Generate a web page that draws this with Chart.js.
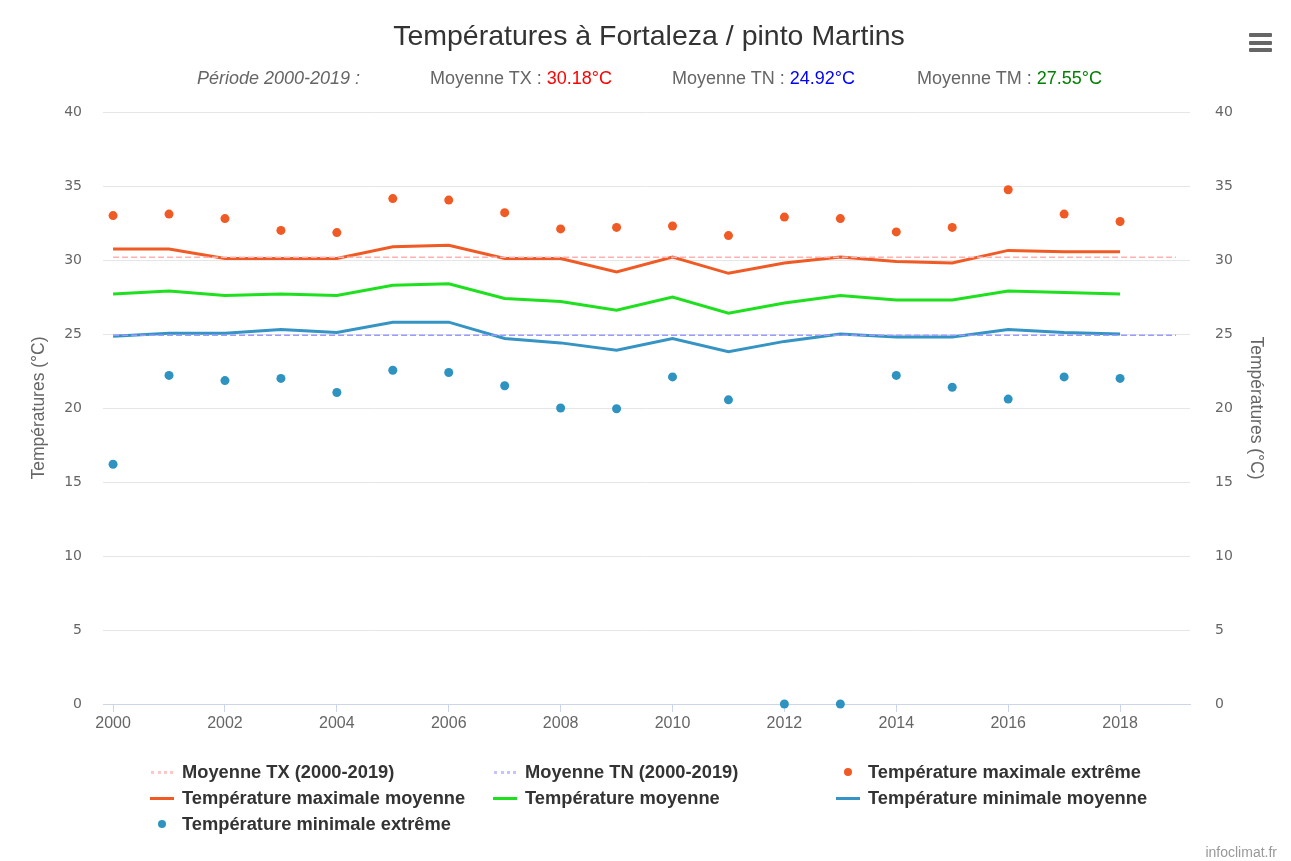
<!DOCTYPE html>
<html>
<head>
<meta charset="utf-8">
<script src="https://cdn.jsdelivr.net/npm/chart.js@4/dist/chart.umd.min.js"></script>
<style>
  body { margin: 0; background: #fff; }
  #wrap { position: relative; width: 1291px; height: 861px; font-family: "Liberation Sans", sans-serif; }
  #chart { position: absolute; left: 0; top: 0; }
  #title { position: absolute; top: 19px; left: 0; width: 1298px; text-align: center; font-size: 28.5px; color: #333; }
  #subtitle { position: absolute; top: 68px; left: 0; font-size: 18px; color: #666; white-space: nowrap; }
  #subtitle span.part { position: absolute; top: 0; }
  #menu { position: absolute; left: 1249px; top: 33px; width: 23px; }
  #menu div { height: 4px; background: #666; margin-bottom: 3.5px; border-radius: 1px; }
  #legend { position: absolute; left: 150px; top: 763px; display: grid; grid-template-columns: 343px 343px 330px; row-gap: 8px; }
  #legend .item { display: flex; align-items: center; font-weight: bold; font-size: 18.3px; color: #333; height: 18px; white-space: nowrap; }
  #legend .sym { width: 24px; margin-right: 8px; display: flex; justify-content: center; align-items: center; }
  #credit { position: absolute; right: 14px; bottom: 1px; font-size: 14px; color: #999; }
</style>
</head>
<body>
<div id="wrap">
  <canvas id="chart" width="1291" height="861"></canvas>
  <div id="title">Températures à Fortaleza / pinto Martins</div>
  <div id="subtitle">
    <span class="part" style="left:197px"><i>Période 2000-2019 :</i></span>
    <span class="part" style="left:430px">Moyenne TX : <span style="color:#ff0000">30.18°C</span></span>
    <span class="part" style="left:672px">Moyenne TN : <span style="color:#0000ff">24.92°C</span></span>
    <span class="part" style="left:917px">Moyenne TM : <span style="color:#008000">27.55°C</span></span>
  </div>
  <div id="menu"><div></div><div></div><div></div></div>
  <div id="legend"></div>
  <div id="credit">infoclimat.fr</div>
</div>
<script>
// Data
const years = [2000, 2001, 2002, 2003, 2004, 2005, 2006, 2007, 2008, 2009,
               2010, 2011, 2012, 2013, 2014, 2015, 2016, 2017, 2018];
const periodYears = [2000, 2019];
const moyenneTX = 30.18;
const moyenneTN = 24.92;
const tmaxExtreme = [33.0, 33.1, 32.8, 32.0, 31.85, 34.15, 34.05, 33.2, 32.1, 32.2,
                     32.3, 31.65, 32.9, 32.8, 31.9, 32.2, 34.75, 33.1, 32.6];
const tmaxMoyenne = [30.75, 30.75, 30.1, 30.1, 30.1, 30.9, 31.0, 30.1, 30.1, 29.2,
                     30.2, 29.1, 29.8, 30.2, 29.9, 29.8, 30.65, 30.55, 30.55];
const tMoyenne = [27.7, 27.9, 27.6, 27.7, 27.6, 28.3, 28.4, 27.4, 27.2, 26.6,
                  27.5, 26.4, 27.1, 27.6, 27.3, 27.3, 27.9, 27.8, 27.7];
const tminMoyenne = [24.85, 25.05, 25.05, 25.3, 25.1, 25.8, 25.8, 24.7, 24.4, 23.9,
                     24.7, 23.8, 24.5, 25.0, 24.8, 24.8, 25.3, 25.1, 25.0];
const tminExtreme = [16.2, 22.2, 21.85, 22.0, 21.05, 22.55, 22.4, 21.5, 20.0, 19.95,
                     22.1, 20.55, 0, 0, 22.2, 21.4, 20.6, 22.1, 22.0];
const xTicks = [2000, 2002, 2004, 2006, 2008, 2010, 2012, 2014, 2016, 2018];
const yTicks = [0, 5, 10, 15, 20, 25, 30, 35, 40];

const pts = arr => years.map((y, i) => ({ x: y, y: arr[i] }));
const flat = v => periodYears.map(y => ({ x: y, y: v }));

const datasets = [
  { label: "Moyenne TX (2000-2019)", data: flat(moyenneTX), borderColor: "#ffb0b0", borderWidth: 1.5,
    borderDash: [6, 3], pointRadius: 0, showLine: true, sym: "dash", symColor: "#ffc8c8" },
  { label: "Moyenne TN (2000-2019)", data: flat(moyenneTN), borderColor: "#9a9aff", borderWidth: 1.5,
    borderDash: [6, 3], pointRadius: 0, showLine: true, sym: "dash", symColor: "#c4c4ff" },
  { label: "Température maximale extrême", data: pts(tmaxExtreme), backgroundColor: "#f05a24",
    borderWidth: 0, pointRadius: 4.5, showLine: false, clip: false, sym: "dot" },
  { label: "Température maximale moyenne", data: pts(tmaxMoyenne), borderColor: "#f05a24", borderWidth: 3,
    pointRadius: 0, showLine: true, sym: "line" },
  { label: "Température moyenne", data: pts(tMoyenne), borderColor: "#1ee01e", borderWidth: 3,
    pointRadius: 0, showLine: true, sym: "line" },
  { label: "Température minimale moyenne", data: pts(tminMoyenne), borderColor: "#3594c4", borderWidth: 3,
    pointRadius: 0, showLine: true, sym: "line" },
  { label: "Température minimale extrême", data: pts(tminExtreme), backgroundColor: "#2f93c2",
    borderWidth: 0, pointRadius: 4.5, showLine: false, clip: false, sym: "dot" }
];

// Build the legend as HTML
const legendEl = document.getElementById("legend");
datasets.forEach(ds => {
  const item = document.createElement("div");
  item.className = "item";
  const color = ds.borderColor || ds.backgroundColor;
  let sym = "";
  if (ds.sym === "dash") sym = `<div style="width:22px;border-top:3px dotted ${ds.symColor}"></div>`;
  else if (ds.sym === "line") sym = `<div style="width:24px;height:3px;background:${color}"></div>`;
  else sym = `<div style="width:8px;height:8px;border-radius:50%;background:${color}"></div>`;
  item.innerHTML = `<span class="sym">${sym}</span>${ds.label}`;
  legendEl.appendChild(item);
});

const yAxisBase = {
  type: "linear",
  min: 0,
  max: 40,
  afterBuildTicks: axis => { axis.ticks = yTicks.map(v => ({ value: v })); },
  border: { display: false },
  ticks: { color: "#666", font: { family: "DejaVu Sans", size: 14 } },
  title: { display: true, text: "Températures (°C)", color: "#666",
           font: { family: "Liberation Sans", size: 17.5 } }
};

new Chart(document.getElementById("chart"), {
  type: "scatter",
  data: { datasets: datasets },
  options: {
    responsive: false,
    animation: false,
    layout: { padding: { top: 112, left: 0, right: 0, bottom: 0 } },
    plugins: { legend: { display: false }, tooltip: { enabled: false } },
    scales: {
      x: {
        type: "linear",
        min: 1999.82,
        max: 2019.25,
        afterBuildTicks: axis => { axis.ticks = xTicks.map(v => ({ value: v })); },
        afterFit: axis => { axis.height = 157; },
        border: { color: "#ccd6eb", width: 1 },
        grid: { drawOnChartArea: false, drawTicks: true, tickLength: 8, color: "#ccd6eb" },
        ticks: { color: "#666", padding: 2, callback: v => String(v),
                 font: { family: "Liberation Sans", size: 16 } }
      },
      y: Object.assign({}, yAxisBase, {
        position: "left",
        afterFit: axis => { axis.width = 103; },
        grid: { color: "#e6e6e6", drawTicks: false },
        ticks: Object.assign({}, yAxisBase.ticks, { padding: 21 }),
        title: Object.assign({}, yAxisBase.title, { padding: { top: 29, bottom: 0 } })
      }),
      y2: Object.assign({}, yAxisBase, {
        position: "right",
        afterFit: axis => { axis.width = 101; },
        grid: { display: false, drawTicks: false },
        ticks: Object.assign({}, yAxisBase.ticks, { padding: 25 }),
        title: Object.assign({}, yAxisBase.title, { padding: { top: 25, bottom: 0 } })
      })
    }
  }
});
</script>
</body>
</html>
